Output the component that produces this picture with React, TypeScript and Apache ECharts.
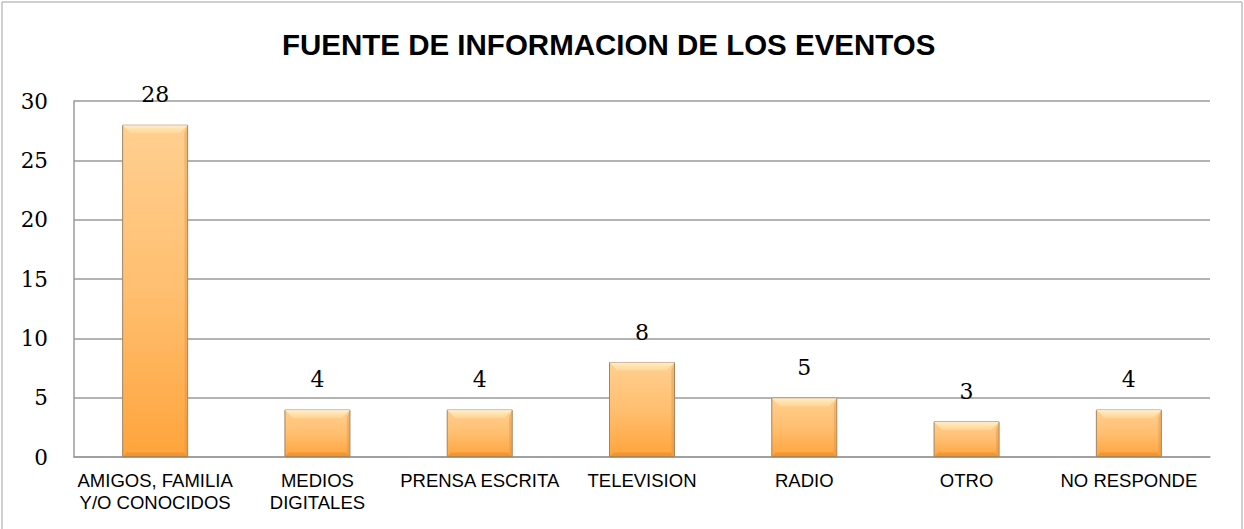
import React, { useEffect, useRef } from "react";
import * as echarts from "echarts";

const titleText = "FUENTE DE INFORMACION DE LOS EVENTOS";
const categories = [
  "AMIGOS, FAMILIA\nY/O CONOCIDOS",
  "MEDIOS\nDIGITALES",
  "PRENSA ESCRITA",
  "TELEVISION",
  "RADIO",
  "OTRO",
  "NO RESPONDE",
];
const values = [28, 4, 4, 8, 5, 3, 4];
const yMin = 0;
const yMax = 30;
const yInterval = 5;

const BAR_W = 66;
const BEVEL = 8;

export default function App() {
  const ref = useRef<HTMLDivElement>(null);
  useEffect(() => {
    if (!ref.current) return;
    const chart = echarts.init(ref.current, null, { renderer: "svg" });
    chart.setOption({
      animation: false,
      backgroundColor: "#ffffff",
      title: {
        text: titleText,
        left: 277,
        top: 24,
        textStyle: {
          fontFamily: "Liberation Sans, Arial, sans-serif",
          fontWeight: "bold",
          fontSize: 29.5,
          color: "#000000",
        },
      },
      graphic: [
        {
          type: "rect",
          shape: { x: 2, y: 2, width: 1240, height: 540 },
          style: { fill: "none", stroke: "#a0a0a0", lineWidth: 1 },
          silent: true,
        },
      ],
      grid: { left: 74, right: 34, top: 101, bottom: 72 },
      xAxis: {
        type: "category",
        data: categories,
        axisLine: { show: true, lineStyle: { color: "#9a9a9a", width: 1.5 } },
        axisTick: { show: false },
        axisLabel: {
          interval: 0,
          margin: 13,
          color: "#000000",
          fontFamily: "Liberation Sans, Arial, sans-serif",
          fontSize: 18.5,
          lineHeight: 21.5,
        },
      },
      yAxis: {
        type: "value",
        min: yMin,
        max: yMax,
        interval: yInterval,
        axisLine: { show: true, lineStyle: { color: "#9a9a9a", width: 1.5 } },
        axisTick: { show: false },
        splitLine: { show: true, lineStyle: { color: "#9a9a9a", width: 1.5 } },
        axisLabel: {
          margin: 26,
          color: "#000000",
          fontFamily: "DejaVu Serif, serif",
          fontSize: 21.5,
        },
      },
      series: [
        {
          type: "bar",
          data: values,
          barWidth: BAR_W,
          itemStyle: {
            color: new echarts.graphic.LinearGradient(0, 0, 0, 1, [
              { offset: 0, color: "#ffcf90" },
              { offset: 0.5, color: "#ffbf70" },
              { offset: 1, color: "#ffa43c" },
            ]),
            borderColor: "#a08466",
            borderWidth: 1,
          },
          label: {
            show: true,
            position: "top",
            distance: 19,
            color: "#000000",
            fontFamily: "DejaVu Serif, serif",
            fontSize: 22,
          },
        },
        {
          type: "custom",
          silent: true,
          z: 3,
          data: values,
          renderItem: (params: any, api: any) => {
            const idx = api.value(0);
            const v = api.value(1);
            const top = api.coord([idx, v]);
            const base = api.coord([idx, 0]);
            const x0 = top[0] - BAR_W / 2 + 0.5;
            const x1 = top[0] + BAR_W / 2 - 0.5;
            const y0 = top[1] + 0.5;
            const y1 = base[1] - 0.5;
            const b = Math.min(BEVEL, (y1 - y0) / 3);
            return {
              type: "group",
              children: [
                {
                  type: "polygon",
                  shape: {
                    points: [
                      [x0, y0],
                      [x1, y0],
                      [x1 - b, y0 + b],
                      [x0 + b, y0 + b],
                    ],
                  },
                  style: {
                    fill: new echarts.graphic.LinearGradient(0, 0, 0, 1, [
                      { offset: 0, color: "rgba(255,240,205,0.95)" },
                      { offset: 1, color: "rgba(255,222,160,0.6)" },
                    ]),
                  },
                },
                {
                  type: "polygon",
                  shape: {
                    points: [
                      [x0, y1],
                      [x1, y1],
                      [x1 - 4, y1 - 4],
                      [x0 + 4, y1 - 4],
                    ],
                  },
                  style: { fill: "rgba(220,130,40,0.45)" },
                },
                {
                  type: "polygon",
                  shape: {
                    points: [
                      [x1, y0],
                      [x1, y1],
                      [x1 - 3, y1 - 4],
                      [x1 - b * 0.4, y0 + b],
                    ],
                  },
                  style: { fill: "rgba(215,140,60,0.35)" },
                },
              ],
            };
          },
          encode: { x: 0, y: 1 },
        },
      ],
    });
    return () => chart.dispose();
  }, []);
  return (
    <div
      ref={ref}
      style={{ position: "fixed", left: 0, top: 0, width: 1244, height: 529 }}
    />
  );
}
